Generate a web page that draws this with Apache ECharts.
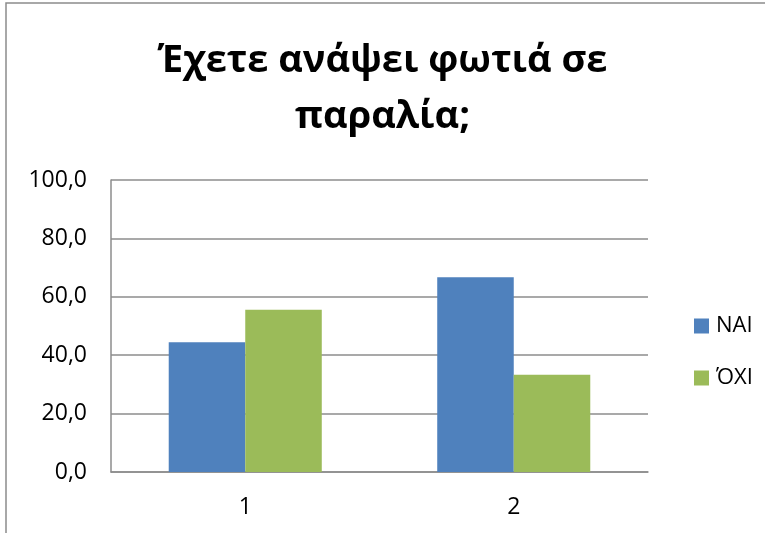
<!DOCTYPE html>
<html>
<head>
<meta charset="utf-8">
<script src="https://cdn.jsdelivr.net/npm/echarts@6/dist/echarts.min.js"></script>
<style>
html,body{margin:0;padding:0;background:#fff;}
#c{width:765px;height:533px;}
</style>
</head>
<body>
<div id="c"></div>
<script>
const titleText = 'Έχετε ανάψει φωτιά σε\nπαραλία;';
const categories = ['1', '2'];
const seriesNames = ['ΝΑΙ', 'ΌΧΙ'];
const naiValues = [44.4, 66.7];
const oxiValues = [55.6, 33.3];
const yTicks = [0, 20, 40, 60, 80, 100];

const chart = echarts.init(document.getElementById('c'));
const font = '"Open Sans", "Liberation Sans", sans-serif';
chart.setOption({
  animation: false,
  textStyle: { fontFamily: font },
  graphic: [{
    type: 'polyline',
    shape: { points: [[6, 533], [6, 3], [765, 3]] },
    style: { stroke: '#8c8c8c', lineWidth: 1.5, fill: null }
  }],
  title: {
    text: titleText,
    left: 'center',
    top: 28,
    textStyle: { fontSize: 38, fontWeight: 'bold', color: '#000', lineHeight: 56, fontFamily: font }
  },
  legend: {
    orient: 'vertical',
    left: 689,
    top: 310,
    itemWidth: 15,
    itemHeight: 15,
    itemGap: 30,
    icon: 'rect',
    textStyle: { fontSize: 22, lineHeight: 18, color: '#000', fontFamily: font, padding: [0, 0, 0, 2] },
    data: seriesNames
  },
  grid: { left: 111, right: 117, top: 180, bottom: 61, containLabel: false },
  xAxis: {
    type: 'category',
    data: categories,
    axisLine: { lineStyle: { color: '#8c8c8c', width: 1.5 } },
    axisTick: { show: false },
    axisLabel: { fontSize: 23, color: '#000', margin: 24 }
  },
  yAxis: {
    type: 'value',
    min: yTicks[0],
    max: yTicks[yTicks.length - 1],
    interval: 20,
    axisLine: { show: true, lineStyle: { color: '#8c8c8c', width: 1.5 } },
    axisTick: { show: false },
    splitLine: { lineStyle: { color: '#8c8c8c', width: 1.5 } },
    axisLabel: { fontSize: 23, color: '#000', margin: 24, formatter: v => v.toFixed(1).replace('.', ',') }
  },
  series: [
    { name: seriesNames[0], type: 'bar', data: naiValues, barGap: '0%', barCategoryGap: '43%', itemStyle: { color: '#4F81BD' } },
    { name: seriesNames[1], type: 'bar', data: oxiValues, barGap: '0%', barCategoryGap: '43%', itemStyle: { color: '#9BBB59' } }
  ]
});
</script>
</body>
</html>
